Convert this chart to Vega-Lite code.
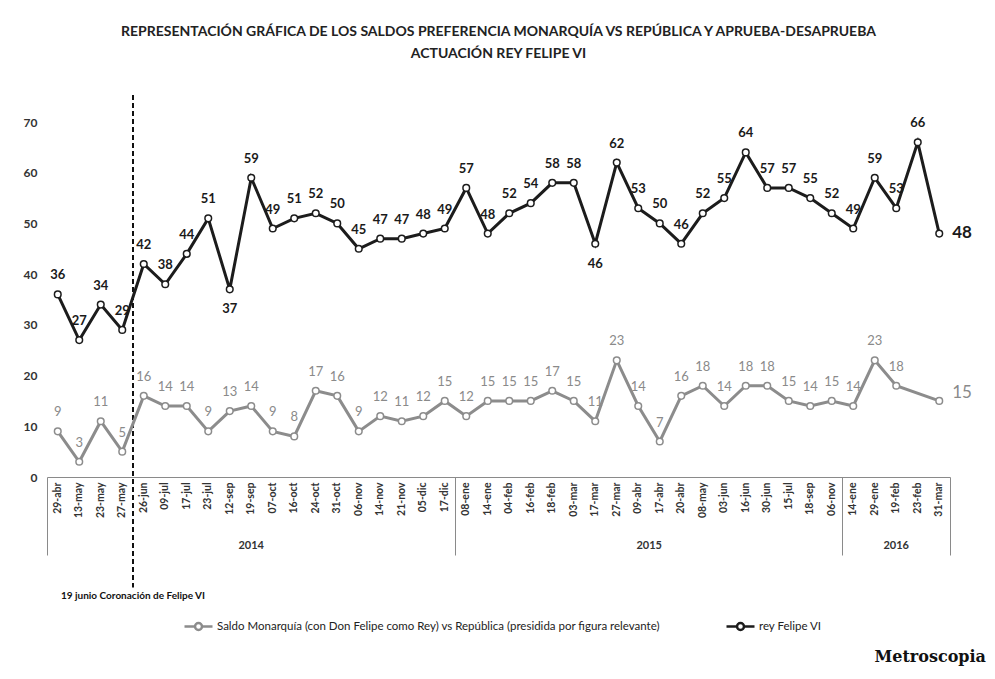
{
  "$schema": "https://vega.github.io/schema/vega-lite/v6.json",
  "width": 903,
  "height": 355,
  "autosize": {"type": "none"},
  "padding": {"left": 47, "top": 122, "right": 45, "bottom": 202},
  "background": "white",
  "title": {
    "text": ["REPRESENTACIÓN GRÁFICA DE LOS SALDOS PREFERENCIA MONARQUÍA VS REPÚBLICA Y APRUEBA-DESAPRUEBA", "ACTUACIÓN REY FELIPE VI"],
    "font": "Lato", "fontSize": 14, "fontWeight": "bold", "color": "#222",
    "anchor": "middle", "frame": "group", "offset": 33, "lineHeight": 22
  },
  "config": {"view": {"stroke": null}, "font": "Lato"},
  "data": {"values": [
    {"fecha": "2014-04-29", "rey": 36, "saldo": 9},
    {"fecha": "2014-05-13", "rey": 27, "saldo": 3},
    {"fecha": "2014-05-23", "rey": 34, "saldo": 11},
    {"fecha": "2014-05-27", "rey": 29, "saldo": 5},
    {"fecha": "2014-06-26", "rey": 42, "saldo": 16},
    {"fecha": "2014-07-09", "rey": 38, "saldo": 14},
    {"fecha": "2014-07-17", "rey": 44, "saldo": 14},
    {"fecha": "2014-07-23", "rey": 51, "saldo": 9},
    {"fecha": "2014-09-12", "rey": 37, "saldo": 13},
    {"fecha": "2014-09-19", "rey": 59, "saldo": 14},
    {"fecha": "2014-10-07", "rey": 49, "saldo": 9},
    {"fecha": "2014-10-16", "rey": 51, "saldo": 8},
    {"fecha": "2014-10-24", "rey": 52, "saldo": 17},
    {"fecha": "2014-10-31", "rey": 50, "saldo": 16},
    {"fecha": "2014-11-06", "rey": 45, "saldo": 9},
    {"fecha": "2014-11-14", "rey": 47, "saldo": 12},
    {"fecha": "2014-11-21", "rey": 47, "saldo": 11},
    {"fecha": "2014-12-05", "rey": 48, "saldo": 12},
    {"fecha": "2014-12-17", "rey": 49, "saldo": 15},
    {"fecha": "2015-01-08", "rey": 57, "saldo": 12},
    {"fecha": "2015-01-14", "rey": 48, "saldo": 15},
    {"fecha": "2015-02-04", "rey": 52, "saldo": 15},
    {"fecha": "2015-02-16", "rey": 54, "saldo": 15},
    {"fecha": "2015-02-18", "rey": 58, "saldo": 17},
    {"fecha": "2015-03-03", "rey": 58, "saldo": 15},
    {"fecha": "2015-03-17", "rey": 46, "saldo": 11},
    {"fecha": "2015-03-27", "rey": 62, "saldo": 23},
    {"fecha": "2015-04-09", "rey": 53, "saldo": 14},
    {"fecha": "2015-04-17", "rey": 50, "saldo": 7},
    {"fecha": "2015-04-20", "rey": 46, "saldo": 16},
    {"fecha": "2015-05-08", "rey": 52, "saldo": 18},
    {"fecha": "2015-06-03", "rey": 55, "saldo": 14},
    {"fecha": "2015-06-16", "rey": 64, "saldo": 18},
    {"fecha": "2015-06-30", "rey": 57, "saldo": 18},
    {"fecha": "2015-07-15", "rey": 57, "saldo": 15},
    {"fecha": "2015-09-18", "rey": 55, "saldo": 14},
    {"fecha": "2015-11-06", "rey": 52, "saldo": 15},
    {"fecha": "2016-01-14", "rey": 49, "saldo": 14},
    {"fecha": "2016-01-29", "rey": 59, "saldo": 23},
    {"fecha": "2016-02-19", "rey": 53, "saldo": 18},
    {"fecha": "2016-02-23", "rey": 66},
    {"fecha": "2016-03-31", "rey": 48, "saldo": 15}
  ]},
  "resolve": {"axis": {"x": "independent", "y": "independent"}},
  "layer": [
    {
      "data": {"values": [{"fecha": "2014-06-26", "evento": "19 junio Coronación de Felipe VI"}]},
      "mark": {"type": "rule", "strokeDash": [5, 3], "strokeWidth": 2, "color": "#111"},
      "encoding": {
        "x": {"field": "fecha", "type": "nominal", "bandPosition": 0, "scale": {"type": "band", "paddingInner": 0, "paddingOuter": 0}, "axis": null},
        "y": {"datum": 75.3, "type": "quantitative", "scale": {"domain": [0, 70], "nice": false}, "axis": null},
        "y2": {"datum": -21.8}
      }
    },
    {
      "data": {"values": [{"fecha": "2014-06-26", "evento": "19 junio Coronación de Felipe VI"}]},
      "mark": {"type": "text", "font": "Lato", "fontSize": 10, "fontWeight": "bold", "color": "#111", "baseline": "middle", "align": "center"},
      "encoding": {
        "x": {"field": "fecha", "type": "nominal", "bandPosition": 0, "scale": {"type": "band", "paddingInner": 0, "paddingOuter": 0}, "axis": null},
        "y": {"datum": -23.4, "type": "quantitative", "scale": {"domain": [0, 70], "nice": false}, "axis": null},
        "text": {"field": "evento"}
      }
    },
    {
      "transform": [{"filter": "isValid(datum.saldo)"}],
      "mark": {"type": "line", "strokeWidth": 3},
      "encoding": {
        "x": {"field": "fecha", "type": "nominal", "scale": {"type": "band", "paddingInner": 0, "paddingOuter": 0},
          "axis": {"orient": "bottom", "title": null, "values": ["2014-04-29", "2015-01-08", "2016-01-14"], "bandPosition": 0, "labels": false, "domain": false, "ticks": true, "tickSize": 78, "tickColor": "#8a8a8a", "tickWidth": 1, "grid": false}},
        "y": {"field": "saldo", "type": "quantitative", "scale": {"domain": [0, 70], "nice": false}, "axis": null},
        "color": {"datum": "Saldo Monarquía (con Don Felipe como Rey) vs República (presidida por figura relevante)",
          "scale": {"domain": ["Saldo Monarquía (con Don Felipe como Rey) vs República (presidida por figura relevante)", "rey Felipe VI"], "range": ["#8c8c8c", "#1c1c1c"]},
          "legend": {"title": null, "orient": "none", "legendX": 136, "legendY": 489, "direction": "horizontal",
            "symbolType": "M-1,0H-0.25M0.25,0H1M0.25,0A0.25,0.25,0,1,1,-0.25,0A0.25,0.25,0,1,1,0.25,0",
            "symbolSize": 784, "symbolStrokeWidth": 2.5, "labelFont": "Lato", "labelFontSize": 11.5, "labelColor": "#222",
            "columnPadding": 60, "labelOffset": 3, "labelLimit": 0}}
      }
    },
    {
      "transform": [{"filter": "isValid(datum.saldo)"}],
      "mark": {"type": "point", "filled": true, "fill": "white", "stroke": "#8c8c8c", "strokeWidth": 1.5, "size": 44, "opacity": 1},
      "encoding": {
        "x": {"field": "fecha", "type": "nominal", "scale": {"type": "band", "paddingInner": 0, "paddingOuter": 0},
          "axis": {"orient": "bottom", "title": null, "values": ["2014-09-19", "2015-04-09", "2016-02-19"], "labelExpr": "substring(datum.value, 0, 4)", "labelAngle": 0, "labelAlign": "center", "labelBaseline": "top", "labelPadding": 62,
            "labelOffset": {"condition": {"test": "datum.value === '2015-04-09'", "value": 11}, "value": 0},
            "ticks": false, "domain": false, "grid": false, "labelFont": "Lato", "labelFontSize": 11, "labelFontWeight": "bold", "labelColor": "#333"}},
        "y": {"field": "saldo", "type": "quantitative", "scale": {"domain": [0, 70], "nice": false}, "axis": null}
      }
    },
    {
      "mark": {"type": "line", "strokeWidth": 3},
      "encoding": {
        "x": {"field": "fecha", "type": "nominal", "scale": {"type": "band", "paddingInner": 0, "paddingOuter": 0},
          "axis": {"orient": "bottom", "title": null,
            "labelExpr": "substring(datum.value, 8, 10) + '-' + ['ene','feb','mar','abr','may','jun','jul','ago','sep','oct','nov','dic'][toNumber(substring(datum.value, 5, 7)) - 1]",
            "labelAngle": -90, "labelAlign": "right", "labelBaseline": "middle", "labelPadding": 5, "labelFont": "Lato", "labelFontSize": 10.5, "labelFontWeight": "bold", "labelColor": "#333",
            "ticks": false, "domain": true, "domainColor": "#8a8a8a", "domainWidth": 1, "grid": false, "labelOverlap": false, "labelBound": false}},
        "y": {"field": "rey", "type": "quantitative", "scale": {"domain": [0, 70], "nice": false},
          "axis": {"orient": "left", "title": null, "values": [0, 10, 20, 30, 40, 50, 60, 70], "ticks": false, "domain": false, "grid": false, "labelPadding": 10, "labelFont": "Lato", "labelFontSize": 12, "labelFontWeight": "bold", "labelColor": "#333"}},
        "color": {"datum": "rey Felipe VI",
          "scale": {"domain": ["Saldo Monarquía (con Don Felipe como Rey) vs República (presidida por figura relevante)", "rey Felipe VI"], "range": ["#8c8c8c", "#1c1c1c"]},
          "legend": {"title": null, "orient": "none", "legendX": 136, "legendY": 489, "direction": "horizontal",
            "symbolType": "M-1,0H-0.25M0.25,0H1M0.25,0A0.25,0.25,0,1,1,-0.25,0A0.25,0.25,0,1,1,0.25,0",
            "symbolSize": 784, "symbolStrokeWidth": 2.5, "labelFont": "Lato", "labelFontSize": 11.5, "labelColor": "#222",
            "columnPadding": 60, "labelOffset": 3, "labelLimit": 0}}
      }
    },
    {
      "mark": {"type": "point", "filled": true, "fill": "white", "stroke": "#1c1c1c", "strokeWidth": 1.5, "size": 44, "opacity": 1},
      "encoding": {
        "x": {"field": "fecha", "type": "nominal", "scale": {"type": "band", "paddingInner": 0, "paddingOuter": 0},
          "axis": {"orient": "bottom", "title": null, "values": ["2016-03-31"], "bandPosition": 1, "labels": false, "domain": false, "ticks": true, "tickSize": 78, "tickColor": "#8a8a8a", "tickWidth": 1, "grid": false}},
        "y": {"field": "rey", "type": "quantitative", "scale": {"domain": [0, 70], "nice": false}, "axis": null}
      }
    },
    {
      "transform": [{"filter": "datum.fecha !== '2016-03-31' && datum.fecha !== '2014-09-12' && datum.fecha !== '2015-03-17'"}],
      "mark": {"type": "text", "font": "Lato", "fontSize": 13, "fontWeight": "bold", "color": "#1a1a1a", "baseline": "middle", "dy": -19},
      "encoding": {
        "x": {"field": "fecha", "type": "nominal", "scale": {"type": "band", "paddingInner": 0, "paddingOuter": 0}, "axis": null},
        "y": {"field": "rey", "type": "quantitative", "scale": {"domain": [0, 70], "nice": false}, "axis": null},
        "text": {"field": "rey", "type": "quantitative"}
      }
    },
    {
      "transform": [{"filter": "datum.fecha === '2014-09-12' || datum.fecha === '2015-03-17'"}],
      "mark": {"type": "text", "font": "Lato", "fontSize": 13, "fontWeight": "bold", "color": "#1a1a1a", "baseline": "middle", "dy": 20},
      "encoding": {
        "x": {"field": "fecha", "type": "nominal", "scale": {"type": "band", "paddingInner": 0, "paddingOuter": 0}, "axis": null},
        "y": {"field": "rey", "type": "quantitative", "scale": {"domain": [0, 70], "nice": false}, "axis": null},
        "text": {"field": "rey", "type": "quantitative"}
      }
    },
    {
      "transform": [{"filter": "datum.fecha === '2016-03-31'"}],
      "mark": {"type": "text", "font": "Lato", "fontSize": 17, "fontWeight": "bold", "color": "#1a1a1a", "baseline": "middle", "align": "left", "dx": 13, "dy": -1},
      "encoding": {
        "x": {"field": "fecha", "type": "nominal", "scale": {"type": "band", "paddingInner": 0, "paddingOuter": 0}, "axis": null},
        "y": {"field": "rey", "type": "quantitative", "scale": {"domain": [0, 70], "nice": false}, "axis": null},
        "text": {"field": "rey", "type": "quantitative"}
      }
    },
    {
      "transform": [{"filter": "isValid(datum.saldo) && datum.fecha !== '2016-03-31'"}],
      "mark": {"type": "text", "font": "Lato", "fontSize": 13, "color": "#8a8a8a", "baseline": "middle", "dy": -19},
      "encoding": {
        "x": {"field": "fecha", "type": "nominal", "scale": {"type": "band", "paddingInner": 0, "paddingOuter": 0}, "axis": null},
        "y": {"field": "saldo", "type": "quantitative", "scale": {"domain": [0, 70], "nice": false}, "axis": null},
        "text": {"field": "saldo", "type": "quantitative"}
      }
    },
    {
      "transform": [{"filter": "datum.fecha === '2016-03-31'"}],
      "mark": {"type": "text", "font": "Lato", "fontSize": 17, "color": "#8a8a8a", "baseline": "middle", "align": "left", "dx": 13, "dy": -8},
      "encoding": {
        "x": {"field": "fecha", "type": "nominal", "scale": {"type": "band", "paddingInner": 0, "paddingOuter": 0}, "axis": null},
        "y": {"field": "saldo", "type": "quantitative", "scale": {"domain": [0, 70], "nice": false}, "axis": null},
        "text": {"field": "saldo", "type": "quantitative"}
      }
    },
    {
      "data": {"values": [{"fecha": "2016-03-31", "marca": "Metroscopia"}]},
      "mark": {"type": "text", "font": "DejaVu Serif", "fontSize": 16, "fontWeight": "bold", "color": "#111", "align": "center", "baseline": "alphabetic", "dx": -9},
      "encoding": {
        "x": {"field": "fecha", "type": "nominal", "scale": {"type": "band", "paddingInner": 0, "paddingOuter": 0}, "axis": null},
        "y": {"datum": -36.5, "type": "quantitative", "scale": {"domain": [0, 70], "nice": false}, "axis": null},
        "text": {"field": "marca"}
      }
    }
  ]
}
